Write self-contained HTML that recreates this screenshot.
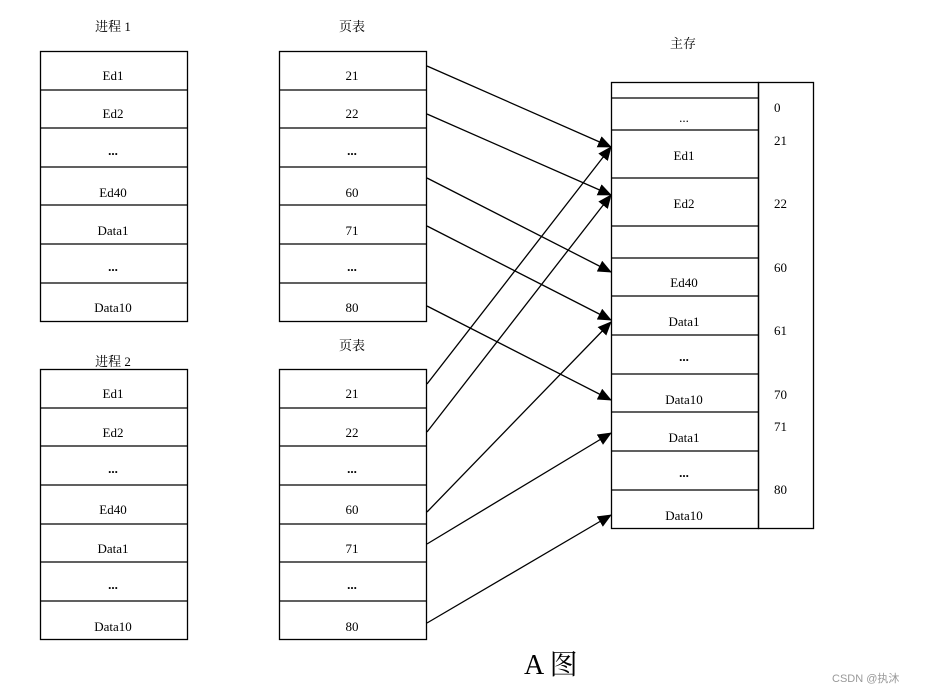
<!DOCTYPE html>
<html><head><meta charset="utf-8"><style>
body{margin:0;background:#fff;width:941px;height:693px;overflow:hidden}
svg text{font-family:"Liberation Serif","Noto Serif CJK SC",serif;font-size:13px;fill:#000}
svg text.d{font-weight:bold}
</style></head><body>
<svg width="941" height="693" xmlns="http://www.w3.org/2000/svg">
<defs><marker id="a" markerWidth="14" markerHeight="12" refX="13" refY="6" orient="auto" markerUnits="userSpaceOnUse"><path d="M0,0 L14,6 L0,12 z" fill="#000"/></marker></defs>
<g stroke="#000" stroke-width="1.3" fill="none">
<rect x="40.5" y="51.5" width="147" height="270"/>
<rect x="279.5" y="51.5" width="147" height="270"/>
<rect x="40.5" y="369.5" width="147" height="270"/>
<rect x="279.5" y="369.5" width="147" height="270"/>
<path d="M40 90H187M40 128H187M40 167H187M40 205H187M40 244H187M40 283H187"/>
<path d="M279 90H426M279 128H426M279 167H426M279 205H426M279 244H426M279 283H426"/>
<path d="M40 408H187M40 446H187M40 485H187M40 524H187M40 562H187M40 601H187"/>
<path d="M279 408H426M279 446H426M279 485H426M279 524H426M279 562H426M279 601H426"/>
<rect x="611.5" y="82.5" width="147" height="446"/>
<rect x="758.5" y="82.5" width="55" height="446"/>
<path d="M611 98H758M611 130H758M611 178H758M611 226H758M611 258H758M611 296H758M611 335H758M611 374H758M611 412H758M611 451H758M611 490H758"/>
</g>
<g stroke="#000" stroke-width="1.3" marker-end="url(#a)">
<line x1="427" y1="66" x2="611" y2="147"/>
<line x1="427" y1="114" x2="611" y2="195"/>
<line x1="427" y1="178" x2="611" y2="272"/>
<line x1="427" y1="226" x2="611" y2="320"/>
<line x1="427" y1="306" x2="611" y2="400"/>
<line x1="427" y1="384" x2="611" y2="147"/>
<line x1="427" y1="432" x2="611" y2="195"/>
<line x1="427" y1="512" x2="611" y2="322"/>
<line x1="427" y1="544" x2="611" y2="433"/>
<line x1="427" y1="623" x2="611" y2="515"/>
</g>
<g text-anchor="middle">
<text x="113" y="31">进程 1</text><text x="352" y="31">页表</text>
<text x="113" y="366">进程 2</text><text x="352" y="350">页表</text>
<text x="683" y="48">主存</text>
<text x="113" y="80">Ed1</text><text x="113" y="118">Ed2</text><text class="d" x="113" y="155">...</text><text x="113" y="197">Ed40</text><text x="113" y="235">Data1</text><text class="d" x="113" y="271">...</text><text x="113" y="312">Data10</text>
<text x="352" y="80">21</text><text x="352" y="118">22</text><text class="d" x="352" y="155">...</text><text x="352" y="197">60</text><text x="352" y="235">71</text><text class="d" x="352" y="271">...</text><text x="352" y="312">80</text>
<text x="113" y="398">Ed1</text><text x="113" y="437">Ed2</text><text class="d" x="113" y="473">...</text><text x="113" y="514">Ed40</text><text x="113" y="553">Data1</text><text class="d" x="113" y="589">...</text><text x="113" y="631">Data10</text>
<text x="352" y="398">21</text><text x="352" y="437">22</text><text class="d" x="352" y="473">...</text><text x="352" y="514">60</text><text x="352" y="553">71</text><text class="d" x="352" y="589">...</text><text x="352" y="631">80</text>
<text x="684" y="122">...</text><text x="684" y="160">Ed1</text><text x="684" y="208">Ed2</text><text x="684" y="287">Ed40</text><text x="684" y="326">Data1</text><text class="d" x="684" y="361">...</text><text x="684" y="404">Data10</text><text x="684" y="442">Data1</text><text class="d" x="684" y="477">...</text><text x="684" y="520">Data10</text>
</g>
<g>
<text x="774" y="112">0</text><text x="774" y="145">21</text><text x="774" y="208">22</text><text x="774" y="272">60</text><text x="774" y="335">61</text><text x="774" y="399">70</text><text x="774" y="431">71</text><text x="774" y="494">80</text>
</g>
<text x="524" y="674" style="font-size:28px">A 图</text>
<text x="832" y="682" style="font-family:'Liberation Sans','Noto Sans CJK SC',sans-serif;font-size:11px;fill:#999">CSDN @执沐</text>
</svg>
</body></html>
